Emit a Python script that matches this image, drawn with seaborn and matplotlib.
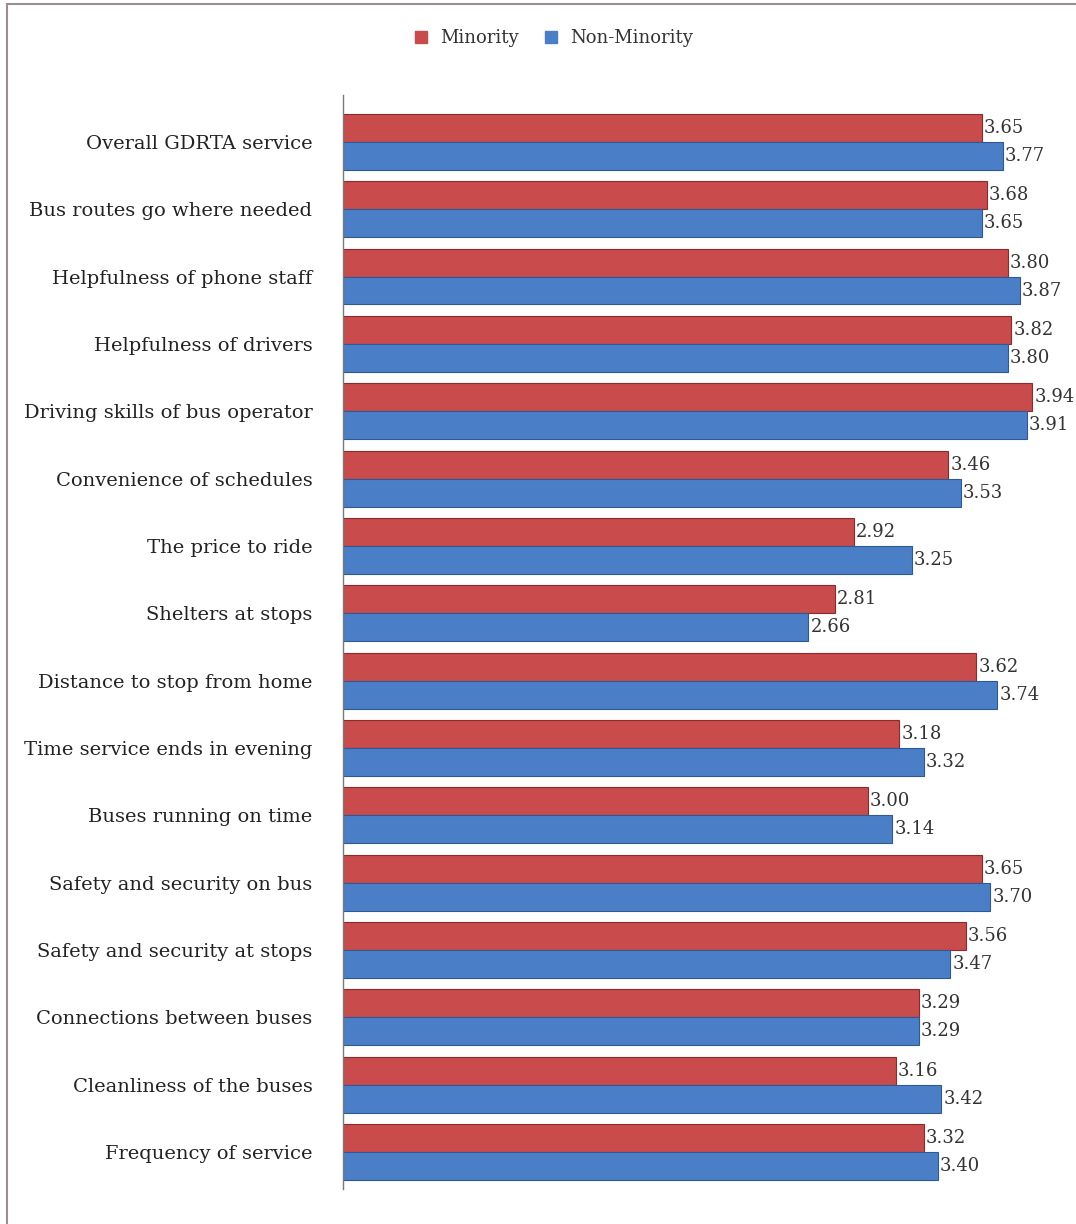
import matplotlib
matplotlib.use("Agg")
import matplotlib.pyplot as plt
import seaborn as sns
import pandas as pd
from matplotlib.patches import Rectangle
from matplotlib.lines import Line2D

categories = [
    "Overall GDRTA service", "Bus routes go where needed", "Helpfulness of phone staff",
    "Helpfulness of drivers", "Driving skills of bus operator", "Convenience of schedules",
    "The price to ride", "Shelters at stops", "Distance to stop from home",
    "Time service ends in evening", "Buses running on time", "Safety and security on bus",
    "Safety and security at stops", "Connections between buses", "Cleanliness of the buses",
    "Frequency of service",
]
minority = [3.65, 3.68, 3.80, 3.82, 3.94, 3.46, 2.92, 2.81, 3.62, 3.18, 3.00, 3.65, 3.56, 3.29, 3.16, 3.32]
non_minority = [3.77, 3.65, 3.87, 3.80, 3.91, 3.53, 3.25, 2.66, 3.74, 3.32, 3.14, 3.70, 3.47, 3.29, 3.42, 3.40]
groups = ["Minority", "Non-Minority"]

df = pd.DataFrame({
    "Category": categories * 2,
    "Score": minority + non_minority,
    "Group": [groups[0]] * len(categories) + [groups[1]] * len(categories),
})

sns.set_theme(style="white")
plt.rcParams["font.family"] = ["DejaVu Serif"]

colors = {"Minority": "#C94B4B", "Non-Minority": "#4A7EC6"}
edges = {"Minority": "#8E2A2A", "Non-Minority": "#2D5A96"}

fig = plt.figure(figsize=(10.76, 12.24), dpi=100)
ax = fig.add_axes([343 / 1076, 0.0286, 733 / 1076, 0.894])

sns.barplot(data=df, y="Category", x="Score", hue="Group", orient="h",
            palette=colors, width=0.83, ax=ax, legend=False, saturation=1)

for cont, g in zip(ax.containers, groups):
    for bar in cont:
        bar.set_edgecolor(edges[g])
        bar.set_linewidth(0.8)
    ax.bar_label(cont, fmt="%.2f", padding=1.5, fontsize=13, color="#333333")

ax.set_xlim(0, 4.19)
ax.set_ylim(15.55, -0.7)
ax.set_xlabel("")
ax.set_ylabel("")
ax.set_xticks([])
ax.tick_params(axis="y", labelsize=14, colors="#222222", pad=22, length=0)
for lbl in ax.get_yticklabels():
    lbl.set_va("center_baseline")
for s in ["top", "right", "bottom"]:
    ax.spines[s].set_visible(False)
ax.spines["left"].set_color("#7a7a7a")
ax.spines["left"].set_linewidth(1)

# figure border
fig.patches.append(Rectangle((7 / 1076, -0.01), 1.02, 1 - 4 / 1224 + 0.01,
                             transform=fig.transFigure, fill=False,
                             edgecolor="#9a8f8f", linewidth=1.5))

handles = [Line2D([0], [0], marker="s", linestyle="", markersize=8,
                  markerfacecolor=colors[g], markeredgecolor=colors[g]) for g in groups]
fig.legend(handles, groups, loc="center", bbox_to_anchor=(0.509, 0.969), ncol=2,
           frameon=False, fontsize=13, handletextpad=0.05, columnspacing=0.8,
           labelcolor="#333333")

fig.savefig("out.png", dpi=100, facecolor="white")
